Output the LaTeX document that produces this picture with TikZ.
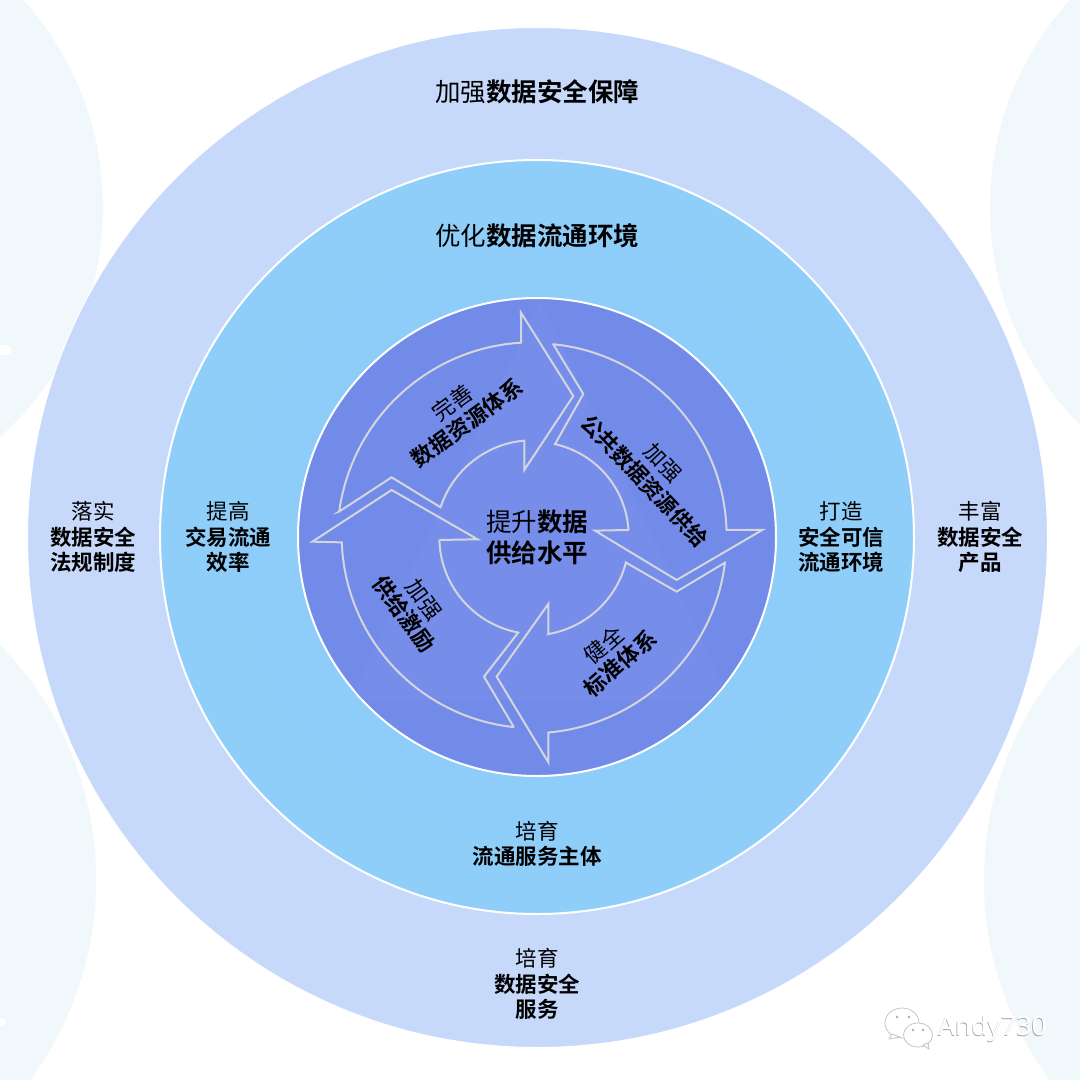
\documentclass[tikz,border=0pt]{standalone}
\usepackage{fontspec}
\setmainfont{Noto Sans CJK SC}[BoldFont={Noto Sans CJK SC Bold}]
\newfontfamily\latinf{Noto Sans}
\definecolor{outerc}{HTML}{C6D9FA}
\definecolor{midc}{HTML}{90CEFA}
\definecolor{midd}{HTML}{8ECDF9}
\definecolor{innerc}{HTML}{738BE8}
\definecolor{innerl}{HTML}{768DEA}
\definecolor{cornerc}{HTML}{F1F8FC}
\definecolor{arrowc}{HTML}{D3D6DE}
\newcommand{\seg}[4]{-- plot[domain=#1:#3,samples=40] ({735+(#2+(#4-#2)*(\x-#1)/(#3-#1))*cos(\x)},{738+(#2+(#4-#2)*(\x-#1)/(#3-#1))*sin(\x)})}
\tikzset{
  lab/.style={align=center,inner sep=0pt,text=black},
  sz26/.style={font=\fontsize{25.5}{32}\selectfont},
  sz21/.style={font=\fontsize{21.5}{25.5}\selectfont},
  sz22/.style={font=\fontsize{22}{24.5}\selectfont},
  arrowline/.style={draw=arrowc,line width=2pt,line join=miter,fill=none},
}
\begin{document}
\begin{tikzpicture}[x=1pt,y=-1pt]
\useasboundingbox (0,0) rectangle (1080,1080);
\fill[white] (0,0) rectangle (1080,1080);
\begin{scope}
\clip (0,0) rectangle (1080,1080);
\fill[cornerc] (-205,207) circle[radius=308];
\fill[cornerc] (1298,207) circle[radius=308];
\fill[cornerc] (-240,880) circle[radius=336];
\fill[cornerc] (1320,880) circle[radius=336];
\fill[white] (3,350) ellipse[x radius=9,y radius=5];
\fill[white] (0,1022) ellipse[x radius=6,y radius=4];
\end{scope}
\fill[outerc,draw=white,line width=1pt] (537.5,537.5) circle[radius=510];
\fill[midc,draw=white,line width=2pt] (537,537) circle[radius=377];
\fill[midd] (537,537) circle[radius=300];
\fill[innerc,draw=white,line width=2pt] (537,537) circle[radius=239];
\begin{scope}
\clip (537,537) circle[radius=238];
\fill[innerl] (540,300) -- (730,700) -- (350,700) -- cycle;
\end{scope}
\begin{scope}[shift={(290,290)},x=0.3333pt,y=-0.3333pt]
\draw[arrowline] (147,665) \seg{187.1}{592}{265.9}{581.5} -- (693,68) -- (850,318) -- (703,540) -- (703,452) \seg{263.6}{288}{196.9}{296} -- (305,562) -- cycle;
\draw[arrowline] (790,163) \seg{275.5}{578}{358.2}{575} -- (1417,720) -- (1160,870) -- (915,722) -- (1015,720) \seg{356.3}{281}{282.3}{282} -- (880,312) -- cycle;
\draw[arrowline] (1305,818) \seg{8}{575.6}{86.1}{591} -- (775,1417) -- (620,1160) -- (775,942) -- (775,1032) \seg{82.3}{297}{16.3}{284} -- (1160,905) -- cycle;
\draw[arrowline] (672,1312) \seg{96.3}{577}{178.1}{580} -- (67,755) -- (305,600) -- (563,748) -- (448,750) \seg{177.6}{287}{99.8}{294} -- (582,1160) -- cycle;
\end{scope}
% ring labels
\node[lab,sz26] (t1) at (537,92) {加强\textbf{数据安全保障}};
\node[lab,sz26] (t2) at (537,236) {优化\textbf{数据流通环境}};
\node[lab,sz21] (t3) at (93,537) {落实\\\textbf{数据安全}\\\textbf{法规制度}};
\node[lab,sz21] (t4) at (228,537) {提高\\\textbf{交易流通}\\\textbf{效率}};
\node[lab,sz21] (t5) at (841,537) {打造\\\textbf{安全可信}\\\textbf{流通环境}};
\node[lab,sz21] (t6) at (980,537) {丰富\\\textbf{数据安全}\\\textbf{产品}};
\node[lab,sz21] (t7) at (537,844) {培育\\\textbf{流通服务主体}};
\node[lab,sz21] (t8) at (537,984) {培育\\\textbf{数据安全}\\\textbf{服务}};
% centre
\node[lab,font=\fontsize{25.5}{31}\selectfont] (c) at (537,537) {提升\textbf{数据}\\\textbf{供给水平}};
\node[lab,sz22,rotate=36] (a1) at (460,413) {完善\\\textbf{数据资源体系}};
\node[lab,font=\fontsize{21.5}{26}\selectfont,rotate=-46.5] (a2) at (654,472) {加强\\\textbf{公共数据资源供给}};
\node[lab,sz22,rotate=-54] (a4) at (414,607) {加强\\\textbf{供给激励}};
\node[lab,sz22,rotate=41] (a3) at (612,654) {健全\\\textbf{标准体系}};
% watermark
\begin{scope}[draw=gray!50,fill=white,line width=0.7pt]
\filldraw (902,1023) ellipse[x radius=17,y radius=15];
\filldraw (892,1034) -- (889,1039) -- (900,1037) -- cycle;
\filldraw (918,1035) ellipse[x radius=14.5,y radius=12];
\filldraw (923,1045) -- (929,1049) -- (928,1043) -- cycle;
\fill[gray!65] (897,1017) circle[radius=1.4] (909,1017) circle[radius=1.4] (913,1030) circle[radius=1.4] (923,1030) circle[radius=1.4];
\end{scope}
\node[inner sep=0pt,anchor=west,text=gray!70,font=\latinf\fontsize{26.5}{27}\selectfont] (wm) at (937.3,1029.5) {Andy730};
\node[inner sep=0pt,anchor=west,text=white,font=\latinf\fontsize{26.5}{27}\selectfont] (wm2) at (937.9,1029) {Andy730};
\end{tikzpicture}
\end{document}
